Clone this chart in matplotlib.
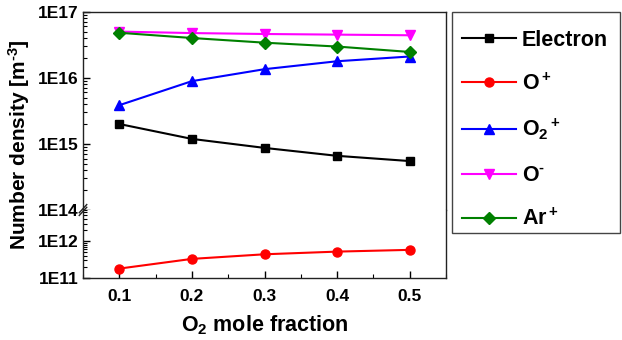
import numpy as np
import matplotlib
matplotlib.use("Agg")
import matplotlib.pyplot as plt
from matplotlib.patches import Rectangle
from matplotlib.ticker import LogLocator, FuncFormatter, MultipleLocator, NullFormatter

plt.rcParams['font.family'] = ['Liberation Sans', 'DejaVu Sans']
plt.rcParams['font.weight'] = 'bold'
plt.rcParams['mathtext.fontset'] = 'custom'
plt.rcParams['mathtext.rm'] = 'Liberation Sans:bold'
plt.rcParams['mathtext.bf'] = 'Liberation Sans:bold'
plt.rcParams['mathtext.it'] = 'Liberation Sans:bold'
plt.rcParams['mathtext.default'] = 'rm'

# Data
o2_fraction = [0.1, 0.2, 0.3, 0.4, 0.5]
electron = [2.0e15, 1.19e15, 8.7e14, 6.6e14, 5.5e14]
o_plus = [1.8e11, 3.3e11, 4.4e11, 5.2e11, 5.8e11]
o2_plus = [3.85e15, 8.9e15, 1.35e16, 1.78e16, 2.1e16]
o_minus = [5.0e16, 4.75e16, 4.6e16, 4.5e16, 4.4e16]
ar_plus = [4.8e16, 4.0e16, 3.4e16, 2.97e16, 2.46e16]

series = [
    ("Electron", electron, 'black', 's'),
    ("O$^+$", o_plus, 'red', 'o'),
    ("O$_2$$^+$", o2_plus, 'blue', '^'),
    ("O$^{\u2010}$", o_minus, 'magenta', 'v'),
    ("Ar$^+$", ar_plus, 'green', 'D'),
]

W, H = 622, 340
fig = plt.figure(figsize=(W/100, H/100), dpi=100)
left, right = 83/W, 446/W
y_top, y_brk, y_bot = 1-11.7/H, 1-210/H, 1-278/H
ax_up = fig.add_axes([left, y_brk, right-left, y_top-y_brk])
ax_lo = fig.add_axes([left, y_bot, right-left, y_brk-y_bot], sharex=ax_up)

handles = []
for label, vals, col, mk in series:
    ms = {'s': 5.8, 'o': 6.5, '^': 6.5, 'v': 6.5, 'D': 6.0}[mk]
    for ax in (ax_up, ax_lo):
        h, = ax.plot(o2_fraction, vals, color=col, marker=mk, markersize=ms,
                     linewidth=1.5, label=label, clip_on=True)
    handles.append(h)

fmt = FuncFormatter(lambda v, p: "1E%d" % int(round(np.log10(v))))
for ax, lim in ((ax_up, (1e14, 1e17)), (ax_lo, (1e11, 7e12))):
    ax.set_yscale('log')
    ax.set_ylim(*lim)
    ax.yaxis.set_major_locator(LogLocator(base=10, numticks=10))
    ax.yaxis.set_minor_locator(LogLocator(base=10, subs=np.arange(2, 10), numticks=10))
    ax.yaxis.set_major_formatter(fmt)
    ax.yaxis.set_minor_formatter(NullFormatter())
    ax.tick_params(axis='both', which='both', direction='in', top=False, right=False,
                   labelsize=12.5)
    ax.tick_params(which='major', length=5, width=1)
    ax.tick_params(which='minor', length=3, width=0.8)
    for s in ax.spines.values():
        s.set_linewidth(1.0)
        s.set_color('#222222')

ax_up.spines['bottom'].set_visible(False)
ax_lo.spines['top'].set_visible(False)
ax_up.tick_params(axis='x', which='both', bottom=False, labelbottom=False)

ax_lo.set_xlim(0.05, 0.55)
ax_lo.xaxis.set_major_locator(MultipleLocator(0.1))
ax_lo.xaxis.set_minor_locator(MultipleLocator(0.05))
ax_lo.xaxis.set_major_formatter(FuncFormatter(lambda v, p: "%.1f" % v))
ax_lo.tick_params(axis='x', pad=8)

# break marks on left spine
d = 0.006
for dy in (-0.004, 0.004):
    fig.add_artist(plt.Line2D([left - d, left + d], [y_brk - 0.012 + dy, y_brk + 0.012 + dy],
                              color='#222222', linewidth=1.0, transform=fig.transFigure))

fig.text(19/W, 1-145/H, "Number density [m$^{\u20103}$]", rotation=90, ha='center', va='center',
         fontsize=15, fontweight='bold')
fig.text((left+right)/2, 1-325/H, "O$_2$ mole fraction", ha='center', va='center',
         fontsize=15.5, fontweight='bold')

# legend box
fig.add_artist(Rectangle((452/W, 1-233/H), 168/W, 221/H, transform=fig.transFigure,
                         facecolor='white', edgecolor='#444444', linewidth=1.0, zorder=1))
leg = fig.legend(handles=handles, loc='upper left',
                 bbox_to_anchor=(452/W, 1-20/H),
                 borderaxespad=0, fontsize=15.5, numpoints=1,
                 handlelength=2.5, labelspacing=1.05, frameon=False,
                 borderpad=0.45, handletextpad=0.3)
leg.set_zorder(2)

fig.savefig("out.png", dpi=100)
